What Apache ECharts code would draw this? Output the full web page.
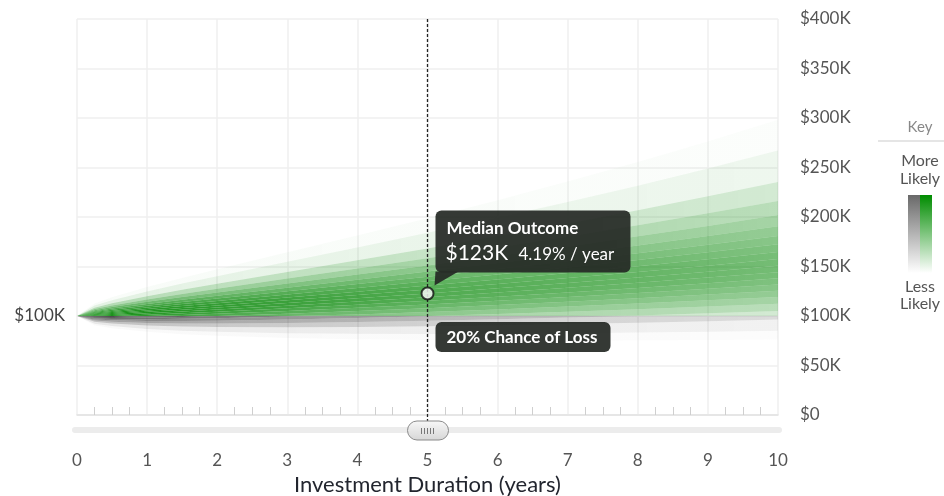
<!DOCTYPE html>
<html><head><meta charset="utf-8">
<script src="https://cdn.jsdelivr.net/npm/echarts@6/dist/echarts.min.js"></script>
<style>html,body{margin:0;padding:0;background:#fff}#c{width:944px;height:496px}</style>
</head><body><div id="c"></div>
<script>
// Time points (years)
const years = [0, 0.25, 0.5, 1, 1.5, 2, 3, 4, 5, 6, 7, 8, 9, 10];
// Portfolio value percentiles ($K), read/estimated from the fan
const p025 = [100, 90.70, 87.64, 83.99, 81.68, 80.03, 77.87, 76.57, 75.82, 75.44, 75.35, 75.47, 75.78, 76.24];
const p05  = [100, 92.29, 89.81, 86.95, 85.21, 84.05, 82.68, 82.07, 81.93, 82.13, 82.59, 83.24, 84.09, 85.07];
const p10  = [100, 94.15, 92.38, 90.49, 89.48, 88.94, 88.60, 88.89, 89.59, 90.57, 91.80, 93.22, 94.79, 96.53];
const p15  = [100, 95.43, 94.16, 92.96, 92.49, 92.40, 92.84, 93.82, 95.16, 96.76, 98.58, 100.60, 102.79, 105.13];
const p20  = [100, 96.46, 95.60, 94.98, 94.95, 95.24, 96.35, 97.93, 99.83, 101.97, 104.34, 106.88, 109.61, 112.50];
const p25  = [100, 97.35, 96.85, 96.74, 97.11, 97.75, 99.47, 101.60, 104.02, 106.67, 109.53, 112.59, 115.82, 119.23];
const p30  = [100, 98.16, 97.99, 98.36, 99.10, 100.06, 102.35, 105.01, 107.93, 111.07, 114.43, 117.98, 121.71, 125.63];
const p35  = [100, 98.91, 99.06, 99.87, 100.97, 102.24, 105.10, 108.27, 111.69, 115.31, 119.15, 123.19, 127.42, 131.85];
const p40  = [100, 99.64, 100.08, 101.33, 102.79, 104.37, 107.78, 111.46, 115.37, 119.49, 123.81, 128.35, 133.09, 138.05];
const p45  = [100, 100.33, 101.08, 102.76, 104.56, 106.46, 110.43, 114.64, 119.05, 123.67, 128.50, 133.55, 138.82, 144.31];
const p50  = [100, 101.03, 102.07, 104.19, 106.35, 108.56, 113.11, 117.85, 122.79, 127.93, 133.29, 138.88, 144.70, 150.76];
const p55  = [100, 101.73, 103.07, 105.64, 108.17, 110.70, 115.85, 121.15, 126.65, 132.34, 138.26, 144.42, 150.83, 157.50];
const p60  = [100, 102.44, 104.10, 107.14, 110.04, 112.92, 118.70, 124.60, 130.69, 136.96, 143.49, 150.27, 157.32, 164.64];
const p65  = [100, 103.19, 105.17, 108.70, 112.02, 115.27, 121.73, 128.28, 135.00, 141.93, 149.11, 156.57, 164.32, 172.38];
const p70  = [100, 103.99, 106.32, 110.38, 114.14, 117.79, 125.00, 132.26, 139.70, 147.35, 155.27, 163.49, 172.03, 180.93];
const p75  = [100, 104.85, 107.57, 112.21, 116.47, 120.57, 128.62, 136.70, 144.95, 153.43, 162.20, 171.31, 180.78, 190.62];
const p80  = [100, 105.82, 108.97, 114.30, 119.12, 123.75, 132.78, 141.82, 151.03, 160.49, 170.28, 180.45, 191.02, 202.03];
const p85  = [100, 106.96, 110.64, 116.77, 122.29, 127.55, 137.80, 148.03, 158.44, 169.14, 180.22, 191.73, 203.71, 216.20];
const p90  = [100, 108.41, 112.77, 119.96, 126.40, 132.51, 144.40, 156.24, 168.29, 180.69, 193.54, 206.92, 220.87, 235.45];
const p95  = [100, 110.60, 116.00, 124.86, 132.74, 140.22, 154.75, 169.25, 184.04, 199.28, 215.13, 231.69, 249.03, 267.18];
const p975 = [100, 112.53, 118.88, 129.26, 138.49, 147.26, 164.32, 181.38, 198.86, 216.95, 235.80, 255.57, 276.30, 298.12];

const startValue = 100;          // $K
const xTicks = [0,1,2,3,4,5,6,7,8,9,10];
const yTicks = [0,50,100,150,200,250,300,350,400];
const selectedYear = 5;
const medianRateText = '4.19% / year';
const medianTitle = 'Median Outcome';
const lossText = '20% Chance of Loss';
const keyTitle = 'Key';
const keyTop = ['More', 'Likely'];
const keyBottom = ['Less', 'Likely'];

const lines = [p025, p05, p10, p15, p20, p25, p30, p35, p40, p45, p50, p55, p60, p65, p70, p75, p80, p85, p90, p95, p975];
const halfAlpha = [0.03, 0.12, 0.32, 0.5, 0.65, 0.77, 0.86, 0.93, 0.98, 1.0];
const bandAlpha = halfAlpha.concat(halfAlpha.slice().reverse());
const fadeStops = [[0, 1.0], [0.1, 0.93], [0.2, 0.86], [0.5, 0.73], [1, 0.58]];

function grad(rgb, a) {
  return new echarts.graphic.LinearGradient(0, 0, 1, 0,
    fadeStops.map(([o, f]) => ({ offset: o, color: 'rgba(' + rgb + ',' + (a * f).toFixed(3) + ')' })));
}

function bandSeries(clamp, rgb, name) {
  return {
    type: 'custom', name: name, silent: true, z: 1,
    data: bandAlpha.map((a, i) => [0, startValue, i]),
    encode: { x: 0, y: 1 },
    renderItem: function (params, api) {
      const i = api.value(2);
      const lo = lines[i], hi = lines[i + 1];
      const pts = [];
      for (let j = 0; j < years.length; j++) pts.push(api.coord([years[j], clamp(hi[j])]));
      for (let j = years.length - 1; j >= 0; j--) pts.push(api.coord([years[j], clamp(lo[j])]));
      return { type: 'polygon', shape: { points: pts }, style: { fill: grad(rgb, bandAlpha[i]) } };
    }
  };
}

const medianIdx = years.indexOf(selectedYear);
const medianVal = p50[medianIdx];

const FONT = 'Lato';
const chart = echarts.init(document.getElementById('c'), null, { renderer: 'canvas' });
chart.setOption({
  animation: false,
  textStyle: { fontFamily: FONT },
  grid: { left: 77, right: 166, top: 19, bottom: 81, containLabel: false, outerBoundsMode: 'none' },
  xAxis: {
    type: 'value', min: 0, max: 10, interval: 1,
    name: 'Investment Duration (years)', nameLocation: 'middle', nameGap: 58,
    nameTextStyle: { fontSize: 22, color: '#22252e', fontFamily: FONT },
    axisLine: { show: true, lineStyle: { color: '#e2e2e2', width: 1.5 } },
    axisTick: { show: false },
    minorTick: { show: true, splitNumber: 4, length: -8, lineStyle: { color: '#cfcfcf', width: 1 } },
    axisLabel: { margin: 37, fontSize: 17, color: '#555', formatter: v => xTicks.includes(v) ? String(v) : '' },
    splitLine: { show: true, lineStyle: { color: '#efefef', width: 1.5 } }
  },
  yAxis: [{
    type: 'value', position: 'right', min: 0, max: 400, interval: 50,
    axisLine: { show: false }, axisTick: { show: false },
    axisLabel: { margin: 22, fontSize: 17, color: '#555', formatter: v => yTicks.includes(v) ? '$' + (v === 0 ? '0' : v + 'K') : '' },
    splitLine: { show: true, lineStyle: { color: '#efefef', width: 1.5 } }
  }, {
    type: 'value', position: 'left', min: 0, max: 400, interval: 50,
    axisLine: { show: false }, axisTick: { show: false }, splitLine: { show: false },
    axisLabel: { margin: 12, fontSize: 17, color: '#444', formatter: v => v === startValue ? '$' + v + 'K' : '' }
  }],
  series: [
    bandSeries(v => Math.min(v, startValue), '60,60,60', 'loss'),
    bandSeries(v => Math.max(v, startValue), '16,140,16', 'gain'),
    {
      type: 'scatter', z: 10, silent: true,
      data: [[selectedYear, medianVal]],
      symbolSize: 12,
      itemStyle: { color: '#fff', borderColor: '#111', borderWidth: 2 }
    }
  ]
});

const m = chart.convertToPixel({ seriesIndex: 2 }, [selectedYear, medianVal]);
const yTop = chart.convertToPixel({ yAxisIndex: 0 }, 400);
const yBot = chart.convertToPixel({ yAxisIndex: 0 }, 0);
const y100 = chart.convertToPixel({ yAxisIndex: 0 }, startValue);
const x0 = chart.convertToPixel({ xAxisIndex: 0 }, 0);
const x10 = chart.convertToPixel({ xAxisIndex: 0 }, 10);
const mx = m[0], my = m[1];

const grips = [];
for (let k = -2; k <= 2; k++) {
  grips.push({ type: 'line', z: 62, shape: { x1: mx + k * 3, y1: yBot + 13, x2: mx + k * 3, y2: yBot + 19 }, style: { stroke: '#777', lineWidth: 1 } });
}

chart.setOption({
  graphic: [
    { type: 'line', z: 5, silent: true, shape: { x1: mx, y1: yTop, x2: mx, y2: yBot + 6 }, style: { stroke: '#222', lineWidth: 1.3, lineDash: [3, 2] } },
    { type: 'rect', z: 4, shape: { x: x0 - 5, y: yBot + 12, width: x10 - x0 + 9, height: 6, r: 3 }, style: { fill: '#ececec' } },
    { type: 'rect', z: 61, shape: { x: mx - 20, y: yBot + 6, width: 41, height: 19, r: 9.5 },
      style: { fill: new echarts.graphic.LinearGradient(0, 0, 0, 1, [{ offset: 0, color: '#f8f8f8' }, { offset: 1, color: '#d6d6d6' }]), stroke: '#8a8a8a', lineWidth: 1 } },
    ...grips,
    // median tooltip
    { type: 'rect', z: 70, shape: { x: mx + 8, y: my - 83, width: 195, height: 62, r: 6 }, style: { fill: 'rgba(38,42,38,0.93)' } },
    { type: 'polygon', z: 70, shape: { points: [[mx + 8, my - 22], [mx + 31, my - 22], [mx + 7, my - 8]] }, style: { fill: 'rgba(38,42,38,0.93)' } },
    { type: 'text', z: 71, x: mx + 19, y: my - 65, style: { text: medianTitle, fill: '#fff', font: 'bold 17px ' + FONT, verticalAlign: 'middle' } },
    { type: 'text', z: 71, x: mx + 18, y: my - 40, style: { text: '$' + Math.round(medianVal) + 'K', fill: '#fff', font: '21px ' + FONT, verticalAlign: 'middle' } },
    { type: 'text', z: 71, x: mx + 91, y: my - 39, style: { text: medianRateText, fill: '#fff', font: '17px ' + FONT, verticalAlign: 'middle' } },
    // loss label
    { type: 'rect', z: 70, shape: { x: mx + 8, y: y100 + 6, width: 175, height: 30, r: 6 }, style: { fill: 'rgba(38,42,38,0.93)' } },
    { type: 'text', z: 71, x: mx + 19, y: y100 + 22, style: { text: lossText, fill: '#fff', font: 'bold 17px ' + FONT, verticalAlign: 'middle' } },
    // key
    { type: 'text', x: 920, y: 127, style: { text: keyTitle, fill: '#888', font: '15px ' + FONT, align: 'center', verticalAlign: 'middle' } },
    { type: 'line', shape: { x1: 878, y1: 141, x2: 944, y2: 141 }, style: { stroke: '#dcdcdc', lineWidth: 1.5 } },
    { type: 'text', x: 920, y: 161, style: { text: keyTop[0], fill: '#555', font: '16px ' + FONT, align: 'center', verticalAlign: 'middle' } },
    { type: 'text', x: 920, y: 179, style: { text: keyTop[1], fill: '#555', font: '16px ' + FONT, align: 'center', verticalAlign: 'middle' } },
    { type: 'rect', shape: { x: 908, y: 195, width: 12, height: 78 }, style: { fill: new echarts.graphic.LinearGradient(0, 0, 0, 1, [{ offset: 0, color: 'rgb(105,105,105)' }, { offset: 1, color: 'rgba(255,255,255,1)' }]) } },
    { type: 'rect', shape: { x: 920, y: 195, width: 12, height: 78 }, style: { fill: new echarts.graphic.LinearGradient(0, 0, 0, 1, [{ offset: 0, color: 'rgb(0,140,0)' }, { offset: 1, color: 'rgba(255,255,255,1)' }]) } },
    { type: 'text', x: 920, y: 287, style: { text: keyBottom[0], fill: '#555', font: '16px ' + FONT, align: 'center', verticalAlign: 'middle' } },
    { type: 'text', x: 920, y: 304, style: { text: keyBottom[1], fill: '#555', font: '16px ' + FONT, align: 'center', verticalAlign: 'middle' } }
  ]
});
</script></body></html>
